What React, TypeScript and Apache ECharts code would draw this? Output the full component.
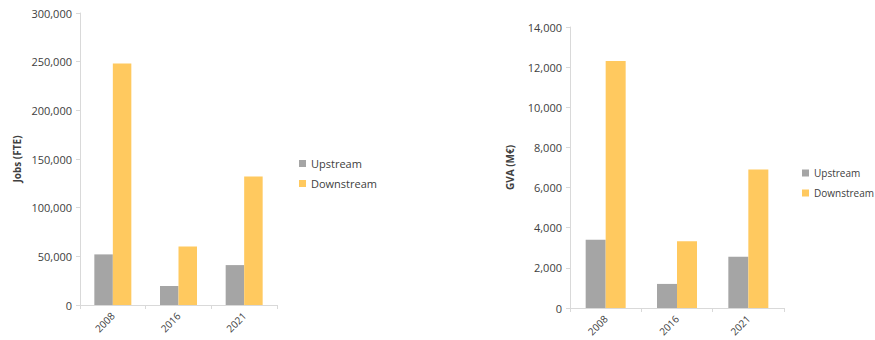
import React, { useEffect, useRef } from "react";
import * as echarts from "echarts";

const years = ["2008", "2016", "2021"];
const seriesNames = ["Upstream", "Downstream"];

const jobsUpstream = [52000, 19500, 41000];
const jobsDownstream = [248000, 60000, 132000];

const gvaUpstream = [3400, 1200, 2550];
const gvaDownstream = [12300, 3330, 6900];

const GREY = "#a5a5a5";
const GOLD = "#ffc95f";
const TEXT = "#404040";
const AXIS = "#d9d9d9";
const FONT = "'Open Sans', 'Liberation Sans', sans-serif";

const fmt = (v: number) => v.toLocaleString("en-US");

export default function App() {
  const ref = useRef<HTMLDivElement>(null);

  useEffect(() => {
    document.body.style.margin = "0";
    if (!ref.current) return;
    const chart = echarts.init(ref.current, null, { renderer: "svg" });

    const xAxisBase = (gridIndex: number) => ({
      type: "category" as const,
      gridIndex,
      data: years,
      axisLine: { lineStyle: { color: AXIS } },
      axisTick: { show: true, alignWithLabel: false, length: 4, lineStyle: { color: AXIS } },
      axisLabel: { rotate: 45, color: TEXT, fontSize: 10, fontFamily: FONT, margin: 9 },
    });

    const yAxisBase = (gridIndex: number, name: string, max: number, interval: number, nameGap: number) => ({
      type: "value" as const,
      gridIndex,
      min: 0,
      max,
      interval,
      name,
      nameLocation: "middle" as const,
      nameRotate: 90,
      nameGap,
      nameTextStyle: { color: TEXT, fontSize: 10, fontWeight: "bold" as const, fontFamily: FONT },
      axisLine: { show: true, lineStyle: { color: AXIS } },
      axisTick: { show: true, length: 4, lineStyle: { color: AXIS } },
      splitLine: { show: false },
      axisLabel: { color: TEXT, fontSize: 11, fontFamily: FONT, formatter: fmt, margin: 8 },
    });

    const legendBase = {
      data: seriesNames,
      orient: "vertical" as const,
      itemWidth: 7,
      itemHeight: 7,
      itemGap: 9,
      icon: "rect",
    };

    chart.setOption({
      animation: false,
      backgroundColor: "#ffffff",
      textStyle: { fontFamily: FONT },
      grid: [
        { left: 80, top: 13, width: 197, height: 292 },
        { left: 570, top: 27, width: 214, height: 281 },
      ],
      legend: [
        {
          ...legendBase,
          left: 294,
          top: 153,
          textStyle: { color: TEXT, fontSize: 11, fontFamily: FONT },
        },
        {
          ...legendBase,
          left: 797,
          top: 163,
          itemGap: 10,
          textStyle: { color: TEXT, fontSize: 10, fontFamily: FONT },
        },
      ],
      xAxis: [xAxisBase(0), xAxisBase(1)],
      yAxis: [
        yAxisBase(0, "Jobs (FTE)", 300000, 50000, 58),
        yAxisBase(1, "GVA (M€)", 14000, 2000, 55),
      ],
      series: [
        {
          name: "Upstream",
          type: "bar",
          xAxisIndex: 0,
          yAxisIndex: 0,
          data: jobsUpstream,
          barWidth: 18.5,
          barGap: "0%",
          itemStyle: { color: GREY },
        },
        {
          name: "Downstream",
          type: "bar",
          xAxisIndex: 0,
          yAxisIndex: 0,
          data: jobsDownstream,
          barWidth: 18.5,
          barGap: "0%",
          itemStyle: { color: GOLD },
        },
        {
          name: "Upstream",
          type: "bar",
          xAxisIndex: 1,
          yAxisIndex: 1,
          data: gvaUpstream,
          barWidth: 20,
          barGap: "0%",
          itemStyle: { color: GREY },
        },
        {
          name: "Downstream",
          type: "bar",
          xAxisIndex: 1,
          yAxisIndex: 1,
          data: gvaDownstream,
          barWidth: 20,
          barGap: "0%",
          itemStyle: { color: GOLD },
        },
      ],
    });

    return () => chart.dispose();
  }, []);

  return <div ref={ref} style={{ width: 875, height: 340 }} />;
}
